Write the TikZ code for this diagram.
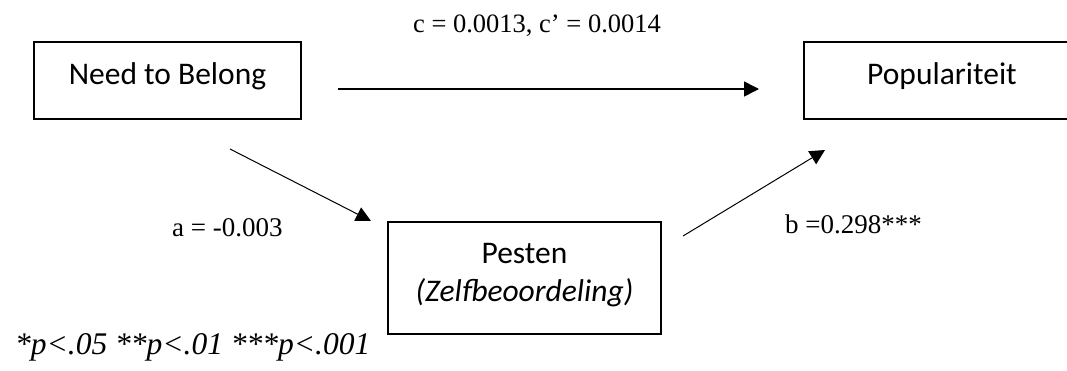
\documentclass[tikz,border=0pt]{standalone}
\usepackage{fontspec}
\setmainfont{Liberation Serif}
\newfontfamily\calibri{Carlito}
\usetikzlibrary{arrows.meta}

\tikzset{
  varbox/.style={draw, line width=1.2pt, inner sep=0pt, align=center,
    font=\calibri\fontsize{31.5}{38}\selectfont},
  effect/.style={line width=1pt, -{Triangle[length=15pt,width=15pt]}},
  coef/.style={inner sep=0pt, anchor=base west, font=\fontsize{27}{32}\selectfont},
}

\begin{document}
\begin{tikzpicture}[x=1pt,y=-1pt]
        \useasboundingbox (0,0) rectangle (1067,370);

        \node[varbox, minimum width=267pt, minimum height=77pt,
              text height=22pt, text depth=15pt] (belong) at (167.5,80.5) {Need to Belong};
        \node[varbox, minimum width=276pt, minimum height=77pt,
              text height=22pt, text depth=15pt] (popular) at (942,80.5) {Populariteit};
        \node[varbox, minimum width=273pt, minimum height=112pt] (pesten) at (524.5,278)
              {Pesten\\\textit{(Zelfbeoordeling)}\rule[-12pt]{0pt}{0pt}};

        \coordinate (cfrom) at (338,89);
        \coordinate (cto) at (759,89);
        \coordinate (afrom) at (230,149);
        \coordinate (ato) at (371,221);
        \coordinate (bfrom) at (683,236);
        \coordinate (bto) at (825,150);

        \draw[effect, line width=1.6pt] (cfrom) -- (cto);
        \draw[effect] (afrom) -- (ato);
        \draw[effect] (bfrom) -- (bto);

        \node[coef, anchor=base, font=\fontsize{26.5}{32}\selectfont] (clabel) at (537,32) {c = 0.0013, c’ = 0.0014};
        \node[coef] (alabel) at (172,236) {a = -0.003};
        \node[coef] (blabel) at (785,233) {b =0.298***};

        \node[coef, font=\itshape\fontsize{31.5}{36}\selectfont] (sig) at (15,354) {*p<.05 **p<.01 ***p<.001};
\end{tikzpicture}
\end{document}
